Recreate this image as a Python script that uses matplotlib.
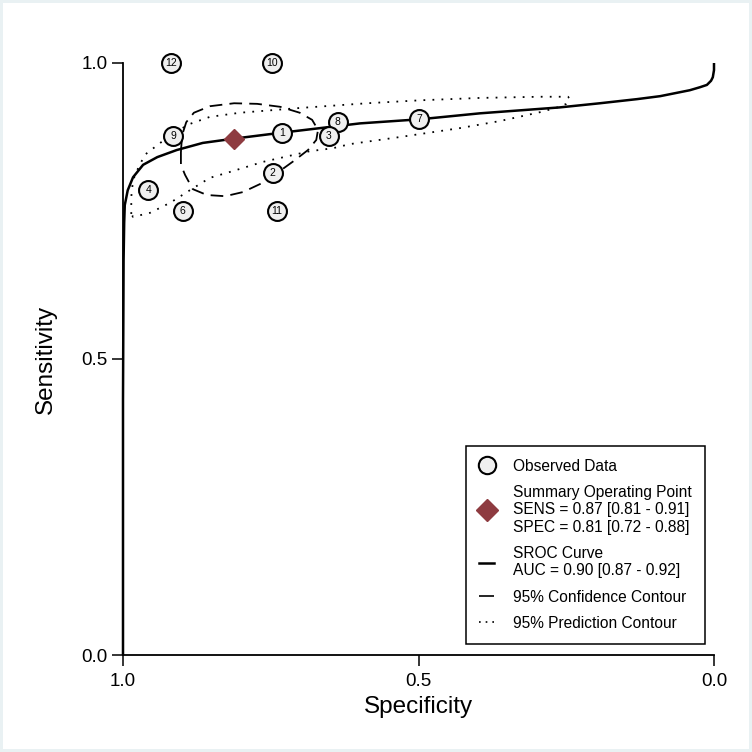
#!/usr/bin/env python3
"""SROC plot: observed studies, summary point, SROC curve and contours."""

import matplotlib

matplotlib.use("Agg")
import matplotlib.pyplot as plt
from matplotlib.lines import Line2D
from matplotlib.patches import Rectangle

plt.rcParams["font.family"] = ["Liberation Sans", "DejaVu Sans"]

# observed studies (specificity, sensitivity, label)
study_ids = ["12", "10", "9", "1", "8", "3", "7", "2", "4", "6", "11"]
study_spec = [0.918, 0.748, 0.915, 0.731, 0.637, 0.652, 0.499, 0.747, 0.957, 0.899, 0.740]
study_sens = [1.000, 1.000, 0.876, 0.882, 0.901, 0.876, 0.905, 0.814, 0.785, 0.750, 0.750]

summary_spec = 0.813
summary_sens = 0.872

# SROC curve
sroc_spec = [1.000, 1.000, 0.999, 0.998, 0.997, 0.992, 0.983, 0.966, 0.942, 0.909,
             0.865, 0.814, 0.734, 0.599, 0.497, 0.396, 0.261, 0.193, 0.130, 0.091,
             0.041, 0.024, 0.012, 0.005, 0.002, 0.000, 0.000]
sroc_sens = [0.000, 0.431, 0.667, 0.730, 0.760, 0.785, 0.807, 0.828, 0.841, 0.853,
             0.865, 0.872, 0.882, 0.898, 0.905, 0.915, 0.925, 0.932, 0.939, 0.944,
             0.954, 0.959, 0.963, 0.970, 0.976, 0.988, 1.000]

# 95% confidence contour
conf_spec = [0.902, 0.900, 0.893, 0.880, 0.853, 0.812, 0.773, 0.734, 0.701, 0.680,
             0.670, 0.673, 0.687, 0.709, 0.734, 0.765, 0.797, 0.827, 0.858, 0.882,
             0.895, 0.902, 0.902]
conf_sens = [0.850, 0.878, 0.900, 0.916, 0.927, 0.932, 0.931, 0.926, 0.916, 0.904,
             0.887, 0.870, 0.853, 0.836, 0.818, 0.797, 0.782, 0.775, 0.777, 0.787,
             0.811, 0.828, 0.850]

# 95% prediction contour
pred_spec = [0.986, 0.986, 0.983, 0.976, 0.963, 0.937, 0.912, 0.887, 0.853, 0.802,
             0.701, 0.587, 0.497, 0.396, 0.294, 0.247, 0.244, 0.250, 0.261, 0.294,
             0.362, 0.430, 0.531, 0.616, 0.645, 0.684, 0.763, 0.819, 0.853, 0.887,
             0.920, 0.954, 0.983, 0.986]
pred_sens = [0.745, 0.774, 0.802, 0.819, 0.845, 0.865, 0.883, 0.897, 0.909, 0.916,
             0.924, 0.932, 0.937, 0.941, 0.943, 0.943, 0.939, 0.931, 0.926, 0.917,
             0.902, 0.890, 0.875, 0.863, 0.856, 0.851, 0.833, 0.816, 0.806, 0.785,
             0.764, 0.747, 0.740, 0.745]

ticks = [1.0, 0.5, 0.0]
tick_labels = ["1.0", "0.5", "0.0"]

legend_labels = [
    "Observed Data",
    "Summary Operating Point\nSENS = 0.87 [0.81 - 0.91]\nSPEC = 0.81 [0.72 - 0.88]",
    "SROC Curve\nAUC = 0.90 [0.87 - 0.92]",
    "95% Confidence Contour",
    "95% Prediction Contour",
]

SUMMARY_COLOR = "#8e3b40"
W = 752.0

fig = plt.figure(figsize=(7.52, 7.52), dpi=100)
fig.patch.set_facecolor("#e9f1f3")
fig.add_artist(Rectangle((3 / W, 3 / W), 746 / W, 746 / W, transform=fig.transFigure,
                         facecolor="white", edgecolor="none", zorder=-5))
ax = fig.add_axes([123 / W, 97 / W, 591 / W, 592 / W])
ax.patch.set_visible(False)

ax.plot(pred_spec, pred_sens, color="black", lw=1.3, linestyle=(0, (1, 4)), zorder=2)
ax.plot(conf_spec, conf_sens, color="black", lw=1.3, linestyle=(0, (7, 4)), zorder=2)
ax.plot(sroc_spec, sroc_sens, color="black", lw=1.8, zorder=3, clip_on=False,
        solid_capstyle="butt", solid_joinstyle="round")

ax.scatter(study_spec, study_sens, s=185, facecolor="#efefef", edgecolor="black",
           linewidth=1.5, zorder=4, clip_on=False)
for sid, sp, se in zip(study_ids, study_spec, study_sens):
    ax.text(sp, se, sid, ha="center", va="center", fontsize=7.5, zorder=5, clip_on=False)

ax.plot([summary_spec], [summary_sens], marker="D", markersize=10.5, color=SUMMARY_COLOR,
        linestyle="none", zorder=6)

ax.set_xlim(1, 0)
ax.set_ylim(0, 1)
ax.set_xticks(ticks)
ax.set_xticklabels(tick_labels)
ax.set_yticks(ticks)
ax.set_yticklabels(tick_labels)
for side in ("top", "right"):
    ax.spines[side].set_visible(False)
for side in ("left", "bottom"):
    ax.spines[side].set_linewidth(1.3)
ax.tick_params(axis="both", length=8, width=1.1, labelsize=13.5)
ax.tick_params(axis="x", pad=5)
ax.tick_params(axis="y", pad=3)
ax.set_xlabel("Specificity", fontsize=17.5, labelpad=4)
ax.set_ylabel("Sensitivity", fontsize=17.5, labelpad=18)

handles = [
    Line2D([], [], marker="o", markersize=12.5, markerfacecolor="#efefef",
           markeredgecolor="black", markeredgewidth=1.5, linestyle="none"),
    Line2D([], [], marker="D", markersize=11, color=SUMMARY_COLOR, linestyle="none"),
    Line2D([], [], color="black", lw=1.8),
    Line2D([], [], color="black", lw=1.2, linestyle=(0, (12, 6))),
    Line2D([], [], color="black", lw=1.2, linestyle=(0, (1, 3))),
]
leg = ax.legend(handles, legend_labels, loc="lower right", bbox_to_anchor=(0.985, 0.0186),
                borderaxespad=0, fontsize=11.2, frameon=True, fancybox=False,
                edgecolor="black", handlelength=1.0, handletextpad=1.2,
                labelspacing=0.72, borderpad=0.85, framealpha=1)
leg.get_frame().set_linewidth(1.1)
leg.set_zorder(10)

fig.savefig("out.png", dpi=100, facecolor=fig.get_facecolor())
